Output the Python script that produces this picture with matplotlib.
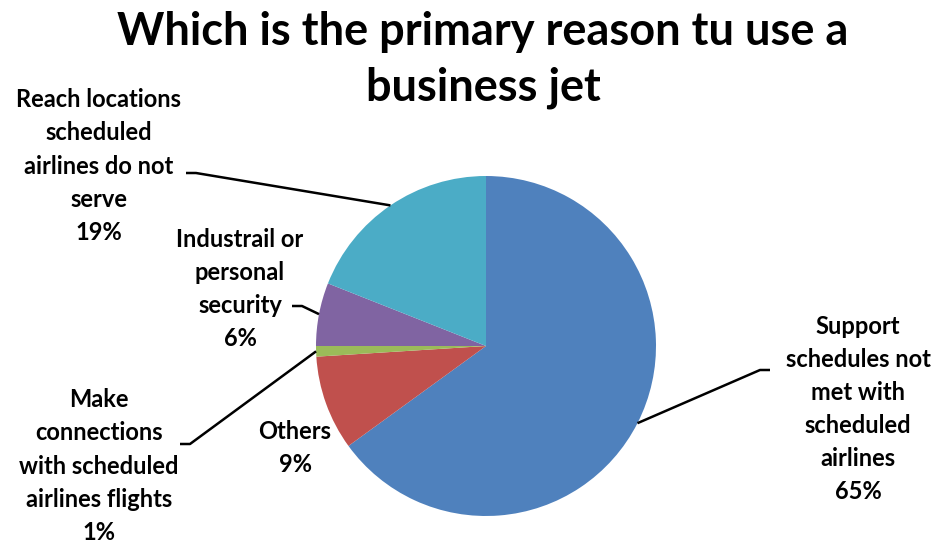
import numpy as np
import matplotlib.pyplot as plt

plt.rcParams["font.family"] = ["Lato", "DejaVu Sans"]

# chart data
labels = [
    "Support\nschedules not\nmet with\nscheduled\nairlines",
    "Others",
    "Make\nconnections\nwith scheduled\nairlines flights",
    "Industrail or\npersonal\nsecurity",
    "Reach locations\nscheduled\nairlines do not\nserve",
]
values = [65, 9, 1, 6, 19]
colors = ["#4F81BD", "#C0504D", "#9BBB59", "#8064A2", "#4BACC6"]
title = "Which is the primary reason tu use a\nbusiness jet"

W, H = 936, 544
fig = plt.figure(figsize=(W / 100, H / 100), dpi=100)
ax = fig.add_axes([0, 0, 1, 1])

cx, cy, r = 486, H - 346, 170
wedges, _ = ax.pie(values, colors=colors, startangle=90, counterclock=False,
                   center=(cx, cy), radius=r, wedgeprops=dict(linewidth=0))
ax.set_xlim(0, W)
ax.set_ylim(0, H)
ax.set_aspect("equal")
ax.axis("off")

# label placement (pixel positions, y from top) and leader stub points
text_pos = [(858, 409), (295, 448), (99, 466), (240, 289), (99, 166)]
stubs = [(770, 370), None, (180, 444), (292, 306), (186, 173)]

for w, lab, v, (tx, ty), stub in zip(wedges, labels, values, text_pos, stubs):
    ax.text(tx, H - ty, f"{lab}\n{v}%", ha="center", va="center",
            fontsize=17, fontweight="bold", linespacing=1.53)
    if stub is None:
        continue
    ang = np.deg2rad((w.theta1 + w.theta2) / 2)
    ex, ey = cx + r * np.cos(ang), cy + r * np.sin(ang)
    sx, sy = stub[0], H - stub[1]
    step = 10 if sx < ex else -10
    ax.plot([sx, sx + step, ex], [sy, sy, ey], color="black", lw=1.8,
            solid_capstyle="butt")

ax.text(483, H - 60, title, ha="center", va="center", fontsize=32.5,
        fontweight="bold", linespacing=1.38)

fig.savefig("out.png", dpi=100)
